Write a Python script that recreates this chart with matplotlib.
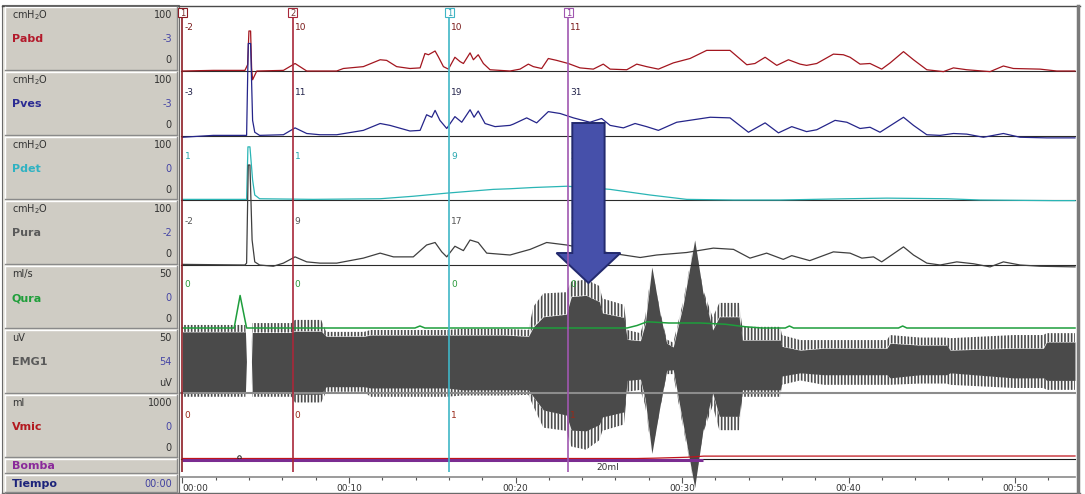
import numpy as np
import matplotlib
matplotlib.use("Agg")
import matplotlib.pyplot as plt
from matplotlib.patches import Rectangle, FancyArrow

W, H = 1085, 494
PLOT_L, PLOT_R = 181, 1075
T0, T1 = -0.09, 53.6

plt.rcParams['font.family'] = 'DejaVu Sans'
plt.rcParams['hatch.color'] = '#4a4a4a'
plt.rcParams['hatch.linewidth'] = 1.2

# ---- traces (time in s) ----
pabd_t = [0.0, 1.85, 3.75, 3.91, 3.99, 4.09, 4.15, 4.21, 4.46, 6.06, 6.76, 7.46, 9.26, 9.66, 10.86,
          11.87, 12.26, 12.86, 13.66, 14.27, 14.56, 14.77, 15.17, 15.36, 15.67, 15.97, 16.36, 16.67,
          16.87, 17.27, 17.47, 17.76, 18.07, 18.47, 19.67, 20.27, 20.77, 21.07, 21.57, 21.97, 22.47,
          23.17, 23.87, 24.67, 25.27, 25.68, 26.68, 27.28, 27.87, 28.58, 29.48, 30.48, 31.48, 32.88,
          33.89, 34.38, 34.99, 35.69, 36.39, 37.09, 37.48, 38.09, 39.09, 39.69, 40.09, 40.69, 41.29,
          41.99, 42.5, 43.3, 43.9, 44.7, 45.7, 46.3, 47.1, 48.5, 49.3, 49.9, 51.5, 52.5, 53.6]
pabd_v = [0, 1, 1, 10, 64, 64, 5, -14, 0, 1, 12, 0, 0, 4, 7,
          18, 17, 7, 4, 5, 28, 26, 32, 23, 7, 3, 22, 15,
          12, 29, 18, 26, 12, 2, 0, 3, 11, 7, 4, 20, 17,
          12, 5, 3, 11, 3, 2, 11, 7, 3, 13, 20, 33, 33,
          10, 12, 22, 9, 18, 11, 9, 12, 27, 26, 22, 11, 12,
          3, 13, 31, 18, 2, -1, 5, 2, -1, 8, 4, 3, 0, 0]

pves_t = [0.0, 1.85, 3.75, 3.85, 3.95, 4.09, 4.21, 4.34, 4.63, 6.06, 6.76, 7.46, 8.26, 9.26, 10.86,
          11.87, 12.46, 13.66, 14.27, 14.66, 14.97, 15.17, 15.46, 15.87, 16.36, 16.77, 17.27, 17.51,
          17.76, 18.17, 18.77, 19.67, 19.87, 20.67, 21.27, 21.97, 22.68, 23.48, 24.47, 25.17, 25.68,
          26.48, 27.18, 27.87, 28.58, 29.68, 31.69, 32.88, 33.99, 34.99, 35.79, 36.59, 37.48, 38.09,
          39.19, 39.9, 40.69, 41.29, 41.89, 43.3, 43.9, 44.7, 45.5, 46.3, 47.1, 48.1, 49.3, 50.3,
          51.9, 53.6]
pves_v = [-2, 1, 1, 1, 148, 148, 25, 6, 1, 2, 13, 4, 2, 2, 9,
          20, 17, 8, 9, 34, 30, 41, 25, 12, 31, 22, 42, 30,
          40, 20, 15, 17, 19, 29, 21, 39, 36, 29, 22, 28, 17,
          13, 20, 15, 9, 22, 30, 29, 6, 21, 5, 15, 7, 10,
          25, 22, 12, 14, 6, 30, 17, 2, 1, 4, 3, -2, 4, -2,
          -3, -3]

pdet_t = [0.0, 3.85, 3.93, 4.05, 4.21, 4.34, 4.63, 7.85, 11.87, 13.86, 15.87, 18.66, 19.67, 21.07,
          23.07, 24.27, 25.68, 28.08, 30.28, 33.09, 35.89, 39.9, 42.3, 45.9, 47.9, 52.3, 53.6]
pdet_v = [1, 1, 85, 85, 32, 8, 2, 1, 2, 6, 11, 17, 18, 20,
          22, 20, 17, 8, 1, 0, 0, 2, 3, 2, 0, -1, -1]

pura_t = [0.0, 3.75, 3.85, 3.95, 4.05, 4.18, 4.34, 4.63, 5.45, 6.06, 6.76, 7.46, 8.26, 9.26, 10.86,
          11.87, 12.67, 13.86, 14.66, 15.17, 15.57, 15.87, 16.36, 16.87, 17.27, 17.76, 18.27, 19.67,
          20.07, 20.88, 21.87, 23.07, 23.67, 25.48, 27.49, 28.48, 30.28, 31.88, 33.09, 34.08, 35.08,
          36.08, 36.59, 37.67, 39.09, 40.09, 40.8, 41.5, 41.99, 43.3, 43.9, 44.7, 45.5, 46.5, 47.5,
          48.5, 49.3, 50.3, 51.5, 53.6]
pura_v = [1, 0, 3, 160, 160, 40, 5, 0, -2, 3, 13, 5, 3, 3, 11,
          19, 13, 13, 32, 36, 21, 13, 30, 23, 40, 36, 19, 16,
          19, 25, 36, 32, 29, 20, 12, 16, 20, 27, 25, 11, 19,
          9, 15, 7, 21, 19, 11, 13, 5, 29, 16, 3, 0, 5, 2,
          -3, 5, 0, -2, -3]

qura_t = [0.0, 3.1, 3.46, 3.85, 13.96, 14.26, 14.56, 26.7, 27.3, 27.9, 29.2, 31.1, 32.6, 33.8, 34.8,
          36.2, 36.45, 36.7, 43.0, 43.25, 43.5, 53.6]
qura_v = [0, 0, 26, 0, 0, 1.6, 0, 0, 2, 5, 4, 4, 3, 1, 0,
          0, 1.6, 0, 0, 1.6, 0, 0]

# EMG envelope: dense core and spike tips
emg_t = [0.0, 3.78, 3.84, 4.14, 4.19, 6.55, 6.75, 8.33, 8.63, 10.9, 11.29, 15.84, 16.83, 19.3, 20.78,
         21.07, 21.67, 23.05, 23.35, 24.24, 25.03, 25.22, 26.51, 26.71, 27.5, 27.79, 28.19, 28.68,
         29.08, 29.47, 30.07, 30.76, 31.25, 31.84, 32.24, 33.42, 33.62, 35.9, 36.0, 37.1, 38.5,
         42.3, 42.5, 44.3, 45.9, 46.1, 49.9, 51.7, 51.9, 53.6]
emg_core_hi = [47, 47, 0, 0, 46, 46, 48, 48, 40, 40, 42, 42, 42, 42, 40,
               55, 71, 75, 103, 105, 95, 77, 70, 35, 33, 60, 150, 75,
               29, 23, 90, 193, 110, 50, 71, 71, 34, 34, 24, 18, 21,
               21, 29, 26, 26, 18, 21, 21, 31, 31]
emg_core_lo = [-48, -48, 0, 0, -48, -48, -52, -52, -40, -40, -42, -42, -45, -45, -45,
               -56, -77, -85, -109, -110, -100, -88, -80, -30, -28, -60, -146, -70,
               -14, -13, -100, -200, -110, -50, -87, -87, -45, -45, -23, -18, -21,
               -21, -26, -21, -21, -18, -26, -26, -30, -30]
emg_peak_hi = [58, 58, 0, 0, 61, 61, 66, 66, 47, 47, 50, 50, 52, 52, 50,
               87, 108, 110, 127, 130, 120, 100, 90, 50, 45, 70, 150, 80,
               35, 30, 95, 193, 115, 70, 93, 93, 55, 55, 42, 34, 34,
               34, 42, 38, 38, 37, 42, 42, 45, 45]
emg_peak_lo = [-56, -56, 0, 0, -56, -56, -65, -65, -48, -48, -56, -56, -54, -54, -53,
               -71, -105, -110, -135, -140, -125, -110, -100, -48, -45, -70, -146, -75,
               -20, -20, -105, -200, -115, -70, -109, -109, -56, -56, -37, -30, -37,
               -37, -37, -35, -35, -37, -42, -42, -45, -45]

vmic_t = [0.0, 27.3, 28.3, 30.3, 31.3, 53.6]
vmic_v = [0, 0, 5, 20, 38, 40]
vmic_mark = (3.4, 24)

pump_on = (0.0, 31.26)
pump_label = '20ml'
pump_label_t = 25.56

# event markers and readouts
marker_t = [0.0, 6.62, 16.02, 23.17]
marker_id = ['1', '2', '1', '1']
marker_col = ['#8c1c24', '#a8283a', '#3fb6c6', '#a057b0']
marker_txt = ['#7a2a2a', '#7a3a3a', '#2aa0b0', '#8a3a9a']
pabd_read = ['-2', '10', '10', '11']
pves_read = ['-3', '11', '19', '31']
pdet_read = ['1', '1', '9', '2']
pura_read = ['-2', '9', '17', '3']
qura_read = ['0', '0', '0', '0']
vmic_read = ['0', '0', '1', '1']

arrow_t = 24.38

time_ticks = [0, 10, 20, 30, 40, 50]
time_labels = ['00:00', '00:10', '00:20', '00:30', '00:40', '00:50']

# left panel
ch_names = ['Pabd', 'Pves', 'Pdet', 'Pura', 'Qura', 'EMG1', 'Vmic']
ch_units = ['cmH$_2$O', 'cmH$_2$O', 'cmH$_2$O', 'cmH$_2$O', 'ml/s', 'uV', 'ml']
ch_max = ['100', '100', '100', '100', '50', '50', '1000']
ch_now = ['-3', '-3', '0', '-2', '0', '54', '0']
ch_min = ['0', '0', '0', '0', '0', 'uV', '0']
ch_col = ['#b3192b', '#2b2b93', '#2fb2c2', '#5a5a5a', '#1f9e3a', '#5a5a5a', '#b3191f']
box_top = [7, 72, 137, 201, 266, 330, 395]
box_bot = [70, 135, 199, 264, 328, 393, 457]


def px_rect(left, top, right, bottom):
    return [left / W, 1 - bottom / H, (right - left) / W, (bottom - top) / H]


fig = plt.figure(figsize=(W / 100, H / 100), dpi=100)
fig.patch.set_facecolor('white')

# panel / frame layer in pixel units
pan = fig.add_axes([0, 0, 1, 1])
pan.set_xlim(0, W)
pan.set_ylim(H, 0)
pan.set_axis_off()
pan.set_zorder(0)
pan.add_patch(Rectangle((2, 5), 177, 488, fc='#e6e4de', ec='#6a6a6a', lw=0.8))
pan.plot([2, 1080], [6, 6], color='#4a4a4a', lw=1.0)
pan.plot([2, 1080], [493, 493], color='#6a6a6a', lw=1.0)
pan.plot([1078, 1078], [6, 493], color='#7a7a7a', lw=2.5)


def panel_box(top, bot):
    pan.add_patch(Rectangle((5, top), 172, bot - top, fc='#cfccc4', ec='none'))
    pan.plot([5, 177], [top, top], color='white', lw=1)
    pan.plot([5, 5], [top, bot], color='white', lw=1)
    pan.plot([5, 177], [bot, bot], color='#8a8a8a', lw=1)
    pan.plot([177, 177], [top, bot], color='#8a8a8a', lw=1)


for i, name in enumerate(ch_names):
    top, bot = box_top[i], box_bot[i]
    panel_box(top, bot)
    pan.text(12, top + 8, ch_units[i], fontsize=7, color='#333333', va='center')
    pan.text(172, top + 8, ch_max[i], fontsize=7, color='#333333', va='center', ha='right')
    pan.text(12, top + 32, name, fontsize=8, color=ch_col[i], va='center', fontweight='bold')
    pan.text(172, top + 32, ch_now[i], fontsize=7, color='#4545a5', va='center', ha='right')
    pan.text(172, top + 53, ch_min[i], fontsize=7, color='#333333', va='center', ha='right')

panel_box(459, 473)
pan.text(12, 466, 'Bomba', fontsize=8, color='#8a2a9a', va='center', fontweight='bold')
panel_box(475, 492)
pan.text(12, 484, 'Tiempo', fontsize=8, color='#1c237a', va='center', fontweight='bold')
pan.text(172, 484, '00:00', fontsize=7, color='#4040a0', va='center', ha='right')


def chan_ax(top, base, ylim, z):
    ax = fig.add_axes(px_rect(PLOT_L, top, PLOT_R, base))
    ax.set_xlim(T0, T1)
    ax.set_ylim(*ylim)
    ax.set_facecolor('none')
    ax.set_axis_off()
    ax.set_zorder(z)
    return ax


def readouts(ax, vals, color):
    for t, s in zip(marker_t, vals):
        ax.annotate(s, xy=(t, 0.69), xycoords=ax.get_xaxis_transform(), xytext=(2, 0),
                    textcoords='offset pixels', fontsize=6.5, color=color, va='center')


# time axis
tax = fig.add_axes(px_rect(PLOT_L, 470, PLOT_R, 476.5))
tax.set_xlim(T0, T1)
tax.set_facecolor('none')
tax.set_zorder(1)
for s in ['left', 'right', 'top']:
    tax.spines[s].set_visible(False)
tax.spines['bottom'].set_color('#8a8a8a')
tax.spines['bottom'].set_linewidth(1.2)
tax.set_yticks([])
tax.set_xticks(time_ticks)
tax.set_xticklabels(time_labels)
tax.set_xticks(np.arange(0, 54, 2), minor=True)
tax.tick_params(axis='x', which='major', length=4.3, width=0.8, color='#555555',
                labelsize=6.5, labelcolor='#333333', pad=1)
tax.tick_params(axis='x', which='minor', length=2.2, width=0.8, color='#555555')
tax.get_xticklabels()[0].set_ha('left')

# EMG
emg = chan_ax(330, 393, (-50, 50), 2)
emg.axhline(-50, color='#8c8c8c', lw=1.5, clip_on=False)
emg.fill_between(emg_t, emg_core_lo, emg_core_hi, color='#4a4a4a', lw=0, clip_on=False)
emg.fill_between(emg_t, emg_core_hi, emg_peak_hi, facecolor='none', edgecolor='#4a4a4a',
                 hatch='|||||', lw=0, clip_on=False)
emg.fill_between(emg_t, emg_peak_lo, emg_core_lo, facecolor='none', edgecolor='#4a4a4a',
                 hatch='|||||', lw=0, clip_on=False)

# pressures
press = [
    (pabd_t, pabd_v, pabd_read, '#a3161f', '#7a1a1a', 8.5, 71),
    (pves_t, pves_v, pves_read, '#25258a', '#22224a', 73.5, 136),
    (pdet_t, pdet_v, pdet_read, '#2ab5b5', '#2aa8b0', 137.5, 200),
    (pura_t, pura_v, pura_read, '#3f3f3f', '#555555', 202.5, 265),
]
for t, v, rd, col, lcol, top, base in press:
    ax = chan_ax(top, base, (0, 100), 3)
    ax.axhline(0, color='#2b2b2b', lw=0.8, clip_on=False)
    ax.plot(t, v, color=col, lw=0.9, clip_on=False)
    readouts(ax, rd, lcol)

qax = chan_ax(265.5, 328, (0, 50), 4)
qax.plot(qura_t, qura_v, color='#1e9e3c', lw=1.1, clip_on=False)
readouts(qax, qura_read, '#2a9a3a')

vax = chan_ax(396, 458.5, (0, 1000), 3)
vax.axhline(0, color='#1a1a1a', lw=0.8, clip_on=False)
vax.plot(vmic_t, vmic_v, color='#c0141c', lw=0.9, clip_on=False)
vax.plot([vmic_mark[0]], [vmic_mark[1]], 'o', ms=2.5, mfc='none', mec='#222222', mew=0.7,
         clip_on=False)
readouts(vax, vmic_read, '#9a2a1a')

bax = chan_ax(458.5, 473, (0, 1), 3)
bax.plot(pump_on, [0.87, 0.87], color='#7b2c91', lw=2.2, solid_capstyle='butt')
bax.text(pump_label_t, 0.35, pump_label, fontsize=6.5, color='#333333', ha='center', va='center')

# overlay: event markers and arrow
ov = fig.add_axes(px_rect(PLOT_L, 0, PLOT_R, H))
ov.set_xlim(T0, T1)
ov.set_ylim(H, 0)
ov.set_axis_off()
ov.set_facecolor('none')
ov.set_zorder(6)
ov.vlines(marker_t, 17.5, 472, colors=marker_col, lw=1.2)
for t, s, c, tc in zip(marker_t, marker_id, marker_col, marker_txt):
    ov.add_patch(Rectangle((t - 0.27, 8.5), 0.54, 9, fc='white', ec=c, lw=0.8, clip_on=False))
    ov.text(t, 13, s, fontsize=6, color=tc, ha='center', va='center')
ov.add_patch(FancyArrow(arrow_t, 123, 0, 160, width=1.94, head_width=3.84, head_length=30,
                        length_includes_head=True, fc='#4650aa', ec='#232a6e', lw=1.4))

fig.savefig('out.png', dpi=100)
